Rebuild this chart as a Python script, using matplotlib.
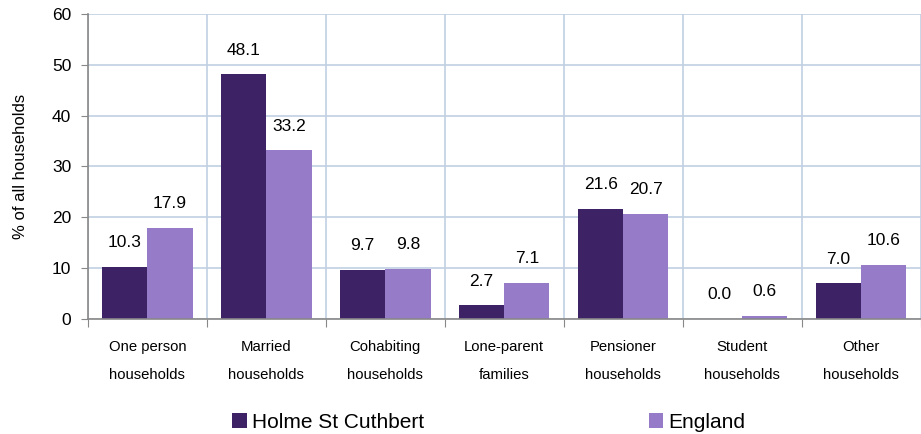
import numpy as np
import matplotlib.pyplot as plt

categories = ["One person\nhouseholds", "Married\nhouseholds", "Cohabiting\nhouseholds",
              "Lone-parent\nfamilies", "Pensioner\nhouseholds", "Student\nhouseholds",
              "Other\nhouseholds"]
holme = [10.3, 48.1, 9.7, 2.7, 21.6, 0.0, 7.0]
england = [17.9, 33.2, 9.8, 7.1, 20.7, 0.6, 10.6]

plt.rcParams['font.family'] = ['Liberation Sans', 'DejaVu Sans']

dark = '#3d2266'
light = '#957bc8'
grid = '#c0cfe2'

fig = plt.figure(figsize=(9.21, 4.34), dpi=100)
ax = fig.add_axes([0.0955, 0.265, 0.904, 0.703])

x = np.arange(len(categories))
w = 0.38
b1 = ax.bar(x - w / 2, holme, w, color=dark, label='Holme St Cuthbert', zorder=3)
b2 = ax.bar(x + w / 2, england, w, color=light, label='England', zorder=3)

for bars, vals in ((b1, holme), (b2, england)):
    for r, v in zip(bars, vals):
        ax.annotate(f"{v:.1f}", (r.get_x() + r.get_width() / 2, v),
                    xytext=(0, 12), textcoords='offset points',
                    ha='center', va='bottom', fontsize=12.5)

ax.set_xlim(-0.5, len(categories) - 0.5)
ax.set_ylim(0, 60)
ax.set_yticks(range(0, 61, 10))
ax.tick_params(axis='y', labelsize=12.5, length=5, color='#888888', pad=7)
ax.set_ylabel('% of all households', fontsize=12)
ax.yaxis.set_label_coords(-0.072, 0.5)

bounds = np.arange(-0.5, len(categories) + 0.5, 1)
ax.set_xticks(bounds)
ax.set_xticklabels([])
ax.set_xticks(x, minor=True)
ax.set_xticklabels(categories, minor=True, fontsize=10.7, linespacing=2.3)
ax.tick_params(axis='x', which='major', length=6, color='#888888')
ax.tick_params(axis='x', which='minor', length=0, pad=15)

ax.grid(True, which='major', color=grid, linewidth=1.2, zorder=0)
for s in ('top', 'right'):
    ax.spines[s].set_visible(False)
for s in ('left', 'bottom'):
    ax.spines[s].set_color('#888888')
    ax.spines[s].set_linewidth(1.2)
ax.spines['left'].set_zorder(4)
ax.spines['bottom'].set_zorder(4)

fig.legend(handles=[b1, b2], loc='lower left', bbox_to_anchor=(0.2315, -0.038),
           ncol=2, frameon=False, fontsize=15, handlelength=0.7, handleheight=0.8,
           handletextpad=0.25, columnspacing=10.8)

fig.savefig('out.png', dpi=100)
